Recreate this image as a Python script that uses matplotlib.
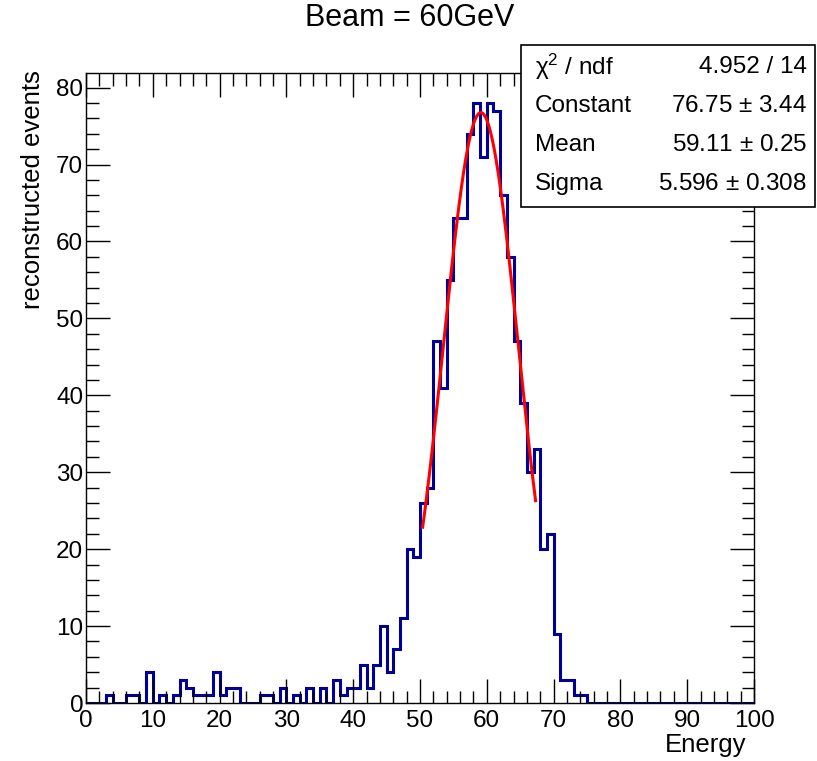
import numpy as np
import matplotlib
matplotlib.use("Agg")
import matplotlib.pyplot as plt
from matplotlib.patches import Rectangle

plt.rcParams["font.family"] = ["Liberation Sans", "DejaVu Sans"]
plt.rcParams["mathtext.fontset"] = "custom"
plt.rcParams["mathtext.rm"] = "Liberation Sans"
plt.rcParams["mathtext.it"] = "Liberation Sans:italic"

# histogram: 100 bins of width 1 from 0 to 100
bin_edges = list(range(0, 101))
counts = [
    0, 0, 0, 1, 0, 0, 1, 1, 0, 4,      # 0-9
    0, 1, 0, 1, 3, 2, 1, 1, 1, 4,      # 10-19
    1, 2, 2, 0, 0, 0, 1, 1, 0, 2,      # 20-29
    0, 1, 0, 2, 0, 2, 0, 3, 1, 2,      # 30-39
    2, 5, 2, 5, 10, 4, 7, 11, 20, 19,  # 40-49
    26, 28, 47, 41, 55, 63, 63, 74, 78, 71,  # 50-59
    78, 77, 66, 58, 47, 39, 30, 33, 20, 22,  # 60-69
    9, 3, 3, 1, 1, 0, 0, 0, 0, 0,      # 70-79
    0, 0, 0, 0, 0, 0, 0, 0, 0, 0,      # 80-89
    0, 0, 0, 0, 0, 0, 0, 0, 0, 0,      # 90-99
]

# gaussian fit result (from the stats box)
fit_const = 76.75
fit_mean = 59.11
fit_sigma = 5.596
fit_range = (50.4, 67.3)

stat_labels = ["\u03c7$^{2}$ / ndf", "Constant", "Mean", "Sigma"]
stat_values = ["4.952 / 14", "76.75 $\\pm$ 3.44", "59.11 $\\pm$ 0.25", "5.596 $\\pm$ 0.308"]

W, H = 817, 761
fig = plt.figure(figsize=(W / 100, H / 100), dpi=100)
ax = fig.add_axes([86 / W, 1 - 703 / H, (754 - 86) / W, (703 - 73) / H])

ax.stairs(counts, bin_edges, baseline=0, color="#000099", linewidth=2.2)

xf = np.linspace(fit_range[0], fit_range[1], 200)
yf = fit_const * np.exp(-0.5 * ((xf - fit_mean) / fit_sigma) ** 2)
ax.plot(xf, yf, color="#ff0000", linewidth=2.2)

ax.set_xlim(0, 100)
ax.set_ylim(0, max(counts) * 1.05)
ax.set_xticks(range(0, 101, 10))
ax.set_xticks(range(0, 101, 2), minor=True)
ax.set_yticks(range(0, 81, 10))
ax.set_yticks(range(0, 81, 2), minor=True)
ax.tick_params(which="both", direction="in", top=True, right=True,
               labelsize=17.5, width=1)
ax.tick_params(which="major", length=17)
ax.tick_params(which="minor", length=9)
ax.tick_params(axis="x", pad=5)
ax.tick_params(axis="y", pad=2)
for s in ax.spines.values():
    s.set_linewidth(1)

fig.text(410 / W, 1 - 18 / H, "Beam = 60GeV", ha="center", va="center", fontsize=22)
fig.text(33 / W, 1 - 70 / H, "reconstructed events", rotation=90,
         ha="center", va="top", fontsize=18.5)
fig.text(746 / W, 1 - 745 / H, "Energy", ha="right", va="center", fontsize=18.5)

# stats box
fig.patches.append(Rectangle((521 / W, 1 - 207 / H), (815 - 521) / W, (207 - 45) / H,
                             transform=fig.transFigure, facecolor="white",
                             edgecolor="black", linewidth=1.2, zorder=5))
for i, (lab, val) in enumerate(zip(stat_labels, stat_values)):
    yc = 1 - (67 + 39 * i) / H
    fig.text(535 / W, yc, lab, ha="left", va="center", fontsize=17.5, zorder=6)
    fig.text(807 / W, yc, val, ha="right", va="center", fontsize=17.5, zorder=6)

fig.savefig("out.png", dpi=100)
